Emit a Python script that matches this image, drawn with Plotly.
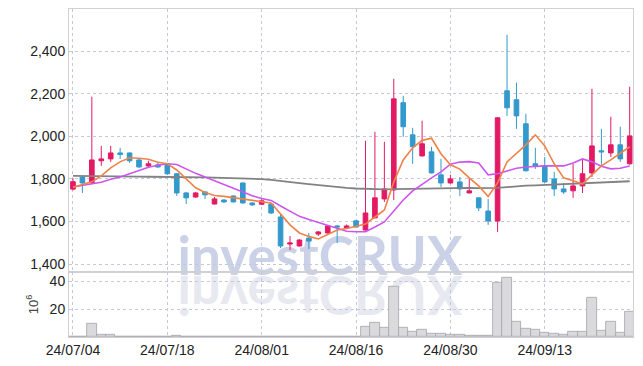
import plotly.graph_objects as go

dates = ["2024-07-04", "2024-07-05", "2024-07-08", "2024-07-09", "2024-07-10", "2024-07-11", "2024-07-12",
         "2024-07-15", "2024-07-16", "2024-07-17", "2024-07-18", "2024-07-19", "2024-07-22", "2024-07-23",
         "2024-07-24", "2024-07-25", "2024-07-26", "2024-07-29", "2024-07-30", "2024-07-31", "2024-08-01",
         "2024-08-02", "2024-08-05", "2024-08-06", "2024-08-07", "2024-08-08", "2024-08-09", "2024-08-12",
         "2024-08-13", "2024-08-14", "2024-08-16", "2024-08-19", "2024-08-20", "2024-08-21", "2024-08-22",
         "2024-08-23", "2024-08-26", "2024-08-27", "2024-08-28", "2024-08-29", "2024-08-30", "2024-09-02",
         "2024-09-03", "2024-09-04", "2024-09-05", "2024-09-06", "2024-09-09", "2024-09-10", "2024-09-11",
         "2024-09-12", "2024-09-13", "2024-09-19", "2024-09-20", "2024-09-23", "2024-09-24", "2024-09-25",
         "2024-09-26", "2024-09-27", "2024-09-30", "2024-10-02"]

opens = [1752, 1809, 1781, 1885, 1894, 1922, 1922, 1889, 1861, 1866,
         1871, 1824, 1734, 1715, 1739, 1682, 1701, 1720, 1781, 1687,
         1681, 1682, 1621, 1494, 1485, 1522, 1541, 1546, 1579, 1570,
         1603, 1560, 1617, 1706, 1748, 2158, 2007, 1908, 1927, 1819,
         1781, 1786, 1734, 1711, 1649, 1602, 2214, 2172, 2059, 1871,
         1861, 1800, 1753, 1744, 1767, 1828, 1932, 1922, 1960, 1871]
highs = [1803, 1814, 2186, 1955, 1955, 1946, 1924, 1894, 1885, 1880,
         1875, 1828, 1739, 1739, 1741, 1715, 1704, 1722, 1783, 1689,
         1706, 1687, 1635, 1532, 1517, 1546, 1555, 1581, 1584, 1586,
         1605, 1979, 2021, 1974, 2270, 2190, 2040, 2073, 1951, 1894,
         1819, 1809, 1805, 1713, 1706, 2090, 2477, 2252, 2106, 1946,
         1903, 1833, 1781, 1871, 1889, 2223, 2035, 2092, 2045, 2233]
lows = [1746, 1734, 1779, 1861, 1880, 1894, 1875, 1852, 1852, 1852,
        1819, 1720, 1682, 1711, 1706, 1680, 1687, 1689, 1685, 1673,
        1678, 1635, 1475, 1466, 1482, 1471, 1532, 1544, 1499, 1565,
        1572, 1556, 1615, 1692, 1701, 1998, 1871, 1905, 1826, 1762,
        1778, 1720, 1732, 1649, 1584, 1551, 2096, 2035, 1835, 1847,
        1781, 1720, 1729, 1711, 1734, 1809, 1866, 1903, 1880, 1866]
closes = [1787, 1781, 1889, 1894, 1922, 1915, 1885, 1856, 1871, 1856,
          1824, 1734, 1711, 1734, 1725, 1706, 1692, 1692, 1687, 1678,
          1697, 1640, 1485, 1499, 1513, 1508, 1551, 1579, 1574, 1579,
          1574, 1640, 1711, 1753, 2176, 2045, 1951, 1965, 1828, 1781,
          1800, 1753, 1744, 1664, 1602, 2087, 2134, 2096, 1838, 1861,
          1786, 1753, 1739, 1767, 1824, 1955, 1927, 1960, 1894, 2002]

ma5 = [1761, 1772, 1786, 1814, 1852, 1880, 1899, 1897, 1892, 1878,
       1871, 1842, 1800, 1758, 1736, 1722, 1718, 1711, 1704, 1697,
       1693, 1687, 1635, 1584, 1546, 1530, 1518, 1539, 1560, 1567,
       1579, 1588, 1621, 1654, 1786, 1889, 1946, 1981, 1991, 1918,
       1866, 1846, 1805, 1767, 1717, 1781, 1880, 1922, 1960, 2007,
       1955, 1871, 1805, 1791, 1776, 1819, 1861, 1889, 1918, 1951]
ma10 = [1762, 1769, 1776, 1784, 1798, 1809, 1824, 1840, 1855, 1864,
        1871, 1868, 1847, 1826, 1809, 1791, 1774, 1755, 1736, 1721,
        1708, 1699, 1673, 1649, 1624, 1609, 1595, 1579, 1565, 1554,
        1552, 1552, 1574, 1598, 1649, 1701, 1744, 1776, 1805, 1833,
        1869, 1879, 1881, 1875, 1819, 1824, 1838, 1850, 1856, 1859,
        1861, 1861, 1861, 1875, 1894, 1880, 1859, 1847, 1850, 1861]
ma_long = [1814, 1814, 1813, 1813, 1812, 1812, 1811, 1811, 1810, 1810,
           1809, 1809, 1808, 1808, 1807, 1806, 1805, 1804, 1803, 1801,
           1799, 1795, 1791, 1786, 1780, 1775, 1770, 1765, 1761, 1758,
           1755, 1753, 1752, 1751, 1752, 1753, 1754, 1755, 1756, 1757,
           1758, 1758, 1758, 1757, 1756, 1758, 1761, 1766, 1768, 1770,
           1772, 1773, 1774, 1776, 1777, 1780, 1782, 1784, 1787, 1789]

volume_m = [0.2, 0.2, 9.4, 1.5, 1.5, 0.2, 0.2, 0.2, 0.2, 0.2,
            0.2, 1.2, 0.2, 0.2, 0.2, 0.2, 0.2, 0.2, 0.2, 0.2,
            0.2, 0.2, 0.2, 0.2, 0.2, 0.2, 0.2, 0.2, 0.2, 0.2,
            0.2, 7.1, 10.1, 6.4, 36.0, 6.4, 3.5, 5.4, 2.1, 2.1,
            1.3, 1.3, 0.8, 1.0, 1.0, 39.3, 42.4, 11.3, 5.9, 4.9,
            2.8, 2.1, 1.3, 3.7, 3.7, 28.3, 4.4, 11.3, 3.0, 18.4]

price_ticks = [1400, 1600, 1800, 2000, 2200, 2400]
vol_ticks = [20, 40]
watermark = "investCRUX"

idx = list(range(len(dates)))
tick_idx = idx[::10]
tick_text = [d[2:].replace("-", "/") for d in dates[::10]]

RED = "#e31a63"
BLUE = "#3399cc"
GRID = "rgb(195,200,222)"
FRAME = "rgb(208,208,212)"
TICKFONT = dict(family="Liberation Sans, sans-serif", size=14, color="#222")

fig = go.Figure()

fig.add_trace(go.Candlestick(
    x=idx, open=opens, high=highs, low=lows, close=closes,
    increasing=dict(line=dict(color=RED, width=1), fillcolor=RED),
    decreasing=dict(line=dict(color=BLUE, width=1), fillcolor=BLUE),
    whiskerwidth=0, xaxis="x", yaxis="y", showlegend=False, hoverinfo="skip"))

fig.add_trace(go.Scatter(x=idx, y=ma_long, mode="lines", line=dict(color="rgb(130,130,130)", width=1.8),
                         xaxis="x", yaxis="y", showlegend=False, hoverinfo="skip"))
fig.add_trace(go.Scatter(x=idx, y=ma10, mode="lines", line=dict(color="rgb(204,85,238)", width=1.6),
                         xaxis="x", yaxis="y", showlegend=False, hoverinfo="skip"))
fig.add_trace(go.Scatter(x=idx, y=ma5, mode="lines", line=dict(color="rgb(238,130,72)", width=1.6),
                         xaxis="x", yaxis="y", showlegend=False, hoverinfo="skip"))

fig.add_trace(go.Bar(x=idx, y=volume_m, marker=dict(color="rgb(218,218,220)",
                                                   line=dict(color="rgb(165,165,170)", width=0.8)),
                     xaxis="x2", yaxis="y2", showlegend=False, hoverinfo="skip"))

split = 0.199
xrange = [-0.42, len(dates) - 0.65]

fig.update_layout(
    width=643, height=366,
    margin=dict(l=69, r=10, t=9, b=29, autoexpand=False),
    paper_bgcolor="white", plot_bgcolor="rgba(0,0,0,0)",
    bargap=0,
    xaxis=dict(domain=[0, 1], anchor="y", range=xrange, tickvals=tick_idx, showticklabels=False,
               showgrid=True, gridcolor=GRID, griddash="dot", gridwidth=1, automargin=False,
               showline=True, mirror=True, linecolor=FRAME, linewidth=1, zeroline=False,
               rangeslider=dict(visible=False), matches="x2"),
    xaxis2=dict(domain=[0, 1], anchor="y2", range=xrange, tickvals=tick_idx, ticktext=tick_text,
                showgrid=True, gridcolor=GRID, griddash="dot", gridwidth=1, automargin=False,
                showline=True, mirror=True, linecolor=FRAME, linewidth=1, zeroline=False,
                tickfont=TICKFONT, ticks=""),
    yaxis=dict(domain=[split, 1], anchor="x", range=[1364, 2598], tickvals=price_ticks,
               tickformat=",d", showgrid=True, gridcolor=GRID, griddash="dot", gridwidth=1,
               showline=True, mirror=True, linecolor=FRAME, linewidth=1, zeroline=False,
               tickfont=TICKFONT, ticks="", automargin=False),
    yaxis2=dict(domain=[0, split], anchor="x2", range=[0, 47], tickvals=vol_ticks,
                showgrid=True, gridcolor=GRID, griddash="dot", gridwidth=1,
                showline=True, mirror=True, linecolor=FRAME, linewidth=1, zeroline=False,
                tickfont=TICKFONT, ticks="", automargin=False,
                title=dict(text="10<sup>6</sup>", font=dict(family="Liberation Sans", size=13, color="#444"),
                           standoff=8)),
)

wm_font = dict(family="Lato, Liberation Sans, sans-serif", size=53, weight="bold")
fig.add_shape(type="rect", xref="paper", yref="paper", x0=0.435, x1=0.455, y0=0.246, y1=0.266,
              line=dict(width=0), fillcolor="rgba(0,0,0,0)", layer="below",
              label=dict(text=watermark, textposition="middle center",
                         font=dict(color="rgb(203,209,230)", **wm_font)))
fig.add_shape(type="rect", xref="paper", yref="paper", x0=0.435, x1=0.455, y0=0.118, y1=0.138,
              line=dict(width=0), fillcolor="rgba(0,0,0,0)", layer="below",
              label=dict(text=watermark, textposition="middle center",
                         font=dict(color="rgb(232,232,240)", **wm_font)))

post = """
document.body.style.margin = '0';
document.documentElement.style.margin = '0';
var gd = document.getElementById('{plot_id}');
var ts = Array.from(gd.querySelectorAll('text')).filter(function(t){ return t.textContent === 'investCRUX'; });
if (ts.length > 1) {
  var t = ts[1];
  var b = t.getBBox();
  var cy = b.y + b.height / 2;
  var tr = t.getAttribute('transform') || '';
  t.setAttribute('transform', tr + ' translate(0,' + (2 * cy) + ') scale(1,-1)');
}
"""

fig.write_html("out.html", config=dict(displayModeBar=False), post_script=post)
